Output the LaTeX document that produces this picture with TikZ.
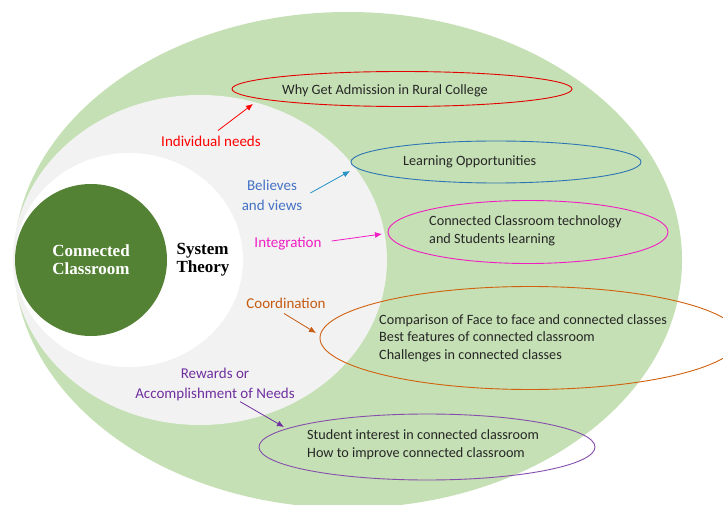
\documentclass[tikz,border=0pt]{standalone}
\usepackage{fontspec}
\setmainfont{Carlito}
\newfontfamily\timesfont{Liberation Serif}
\usetikzlibrary{shapes,arrows.meta,positioning}
\definecolor{fieldgreen}{HTML}{C5E0B4}
\definecolor{theorygray}{HTML}{F2F2F2}
\definecolor{coregreen}{HTML}{548235}
\definecolor{needred}{HTML}{FF0000}
\definecolor{viewblue}{HTML}{4472C4}
\definecolor{oppblue}{HTML}{2E75B6}
\definecolor{integpink}{HTML}{F01EC4}
\definecolor{coordorange}{HTML}{C55A11}
\definecolor{rewardpurple}{HTML}{7030A0}
\tikzset{
 ring/.style = {ellipse, inner sep=0pt, draw=none},
 topic/.style = {ellipse, inner sep=0pt, line width=0.9pt},
 item/.style = {align=left, inner sep=0pt, anchor=west,
           font=\fontsize{14.2}{17.5}\selectfont, text=black!85},
 tag/.style = {align=center, inner sep=0pt,
           font=\fontsize{15}{20}\selectfont},
 link/.style = {-{Latex[length=7pt,width=6pt]}, line width=0.8pt}
}

\begin{document}
\begin{tikzpicture}[x=1pt,y=-1pt]
  \clip (0,0) rectangle (723,505);
  \fill[white] (0,0) rectangle (723,505);

  % Rings
  \node[ring, fill=fieldgreen, minimum width=668pt, minimum height=496pt]
    (field) at (348,260) {};
  \node[ring, fill=theorygray, minimum width=374pt, minimum height=330pt]
    (theory) at (200,260) {};
  \node[ring, fill=white, minimum width=228pt, minimum height=214pt]
    (inner) at (129,260) {};
  \node[circle, inner sep=0pt, fill=coregreen, minimum size=152pt]
    (core) at (91,260) {};

  \node[align=center, text=white, font=\timesfont\bfseries\fontsize{17}{18}\selectfont]
    (corelabel) at (91,260) {Connected\\Classroom};
  \node[align=left, font=\timesfont\bfseries\fontsize{17}{18}\selectfont]
    (theorylabel) at (203,260) {System\\Theory};

  % Topics
  \node[topic, draw=needred!90!black, minimum width=340pt, minimum height=35pt]
    (why) at (402,89) {};
  \node[topic, draw=oppblue, minimum width=290pt, minimum height=42pt]
    (learn) at (496,162) {};
  \node[topic, draw=integpink, minimum width=280pt, minimum height=63pt]
    (tech) at (528,232) {};
  \node[topic, draw=coordorange!80!orange, minimum width=420pt, minimum height=103pt]
    (comp) at (530,338) {};
  \node[topic, draw=rewardpurple!85, minimum width=336pt, minimum height=66pt]
    (interest) at (427,447) {};

  \node[item] (whytext) at (282,91) {Why Get Admission in Rural College};
  \node[item] (learntext) at (403,162) {Learning Opportunities};
  \node[item] (techtext) at (429,231)
    {Connected Classroom technology\\and Students learning};
  \node[item] (comptext) at (379,338)
    {Comparison of Face to face and connected classes\\
     Best features of connected classroom\\
     Challenges in connected classes};
  \node[item] (interesttext) at (307,444.5)
    {Student interest in connected classroom\\
     How to improve connected classroom};

  % Labels
  \node[tag, text=needred] (need) at (211,141) {Individual needs};
  \node[tag, text=viewblue] (views) at (272,195) {Believes\\and views};
  \node[tag, text=integpink] (integ) at (288,244) {Integration};
  \node[tag, text=coordorange] (coord) at (286,303) {Coordination};
  \node[tag, text=rewardpurple] (reward) at (215,384)
    {Rewards or\\Accomplishment of Needs};

  % Arrows
  \coordinate (whytip) at (253,104);
  \coordinate (learntip) at (350,171);
  \coordinate (techtip) at (382,234);
  \coordinate (comptip) at (316,333);
  \coordinate (interesttip) at (284,427);

  \draw[link, needred] ([shift={(7,-5)}]need.north) -- (whytip);
  \draw[link, oppblue!80!cyan] ([shift={(8,-2)}]views.east) -- (learntip);
  \draw[link, integpink] ([shift={(10,-3)}]integ.east) -- (techtip);
  \draw[link, coordorange] ([shift={(-2,5)}]coord.south) -- (comptip);
  \draw[link, rewardpurple] ([shift={(25,1)}]reward.south) -- (interesttip);
\end{tikzpicture}
\end{document}
